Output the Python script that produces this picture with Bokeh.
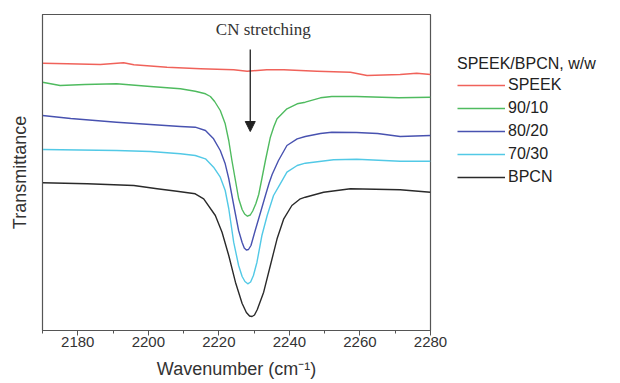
from bokeh.plotting import figure
from bokeh.layouts import row
from bokeh.models import Range1d, Legend, LegendItem, Arrow, NormalHead, Label, FixedTicker
from bokeh.embed import file_html
from bokeh.resources import INLINE

# ---- data (arbitrary transmittance units, offset curves) ----
speek_x = [2170, 2177, 2186.4, 2193, 2195.9, 2205.3, 2214.8, 2224.2, 2228, 2233.6, 2238.4, 2247.8, 2257.3, 2262, 2271.4, 2276.1, 2280]
speek_y = [267.3, 266.7, 266, 267.7, 265.7, 263.3, 261.7, 260.7, 259.3, 260.7, 260.7, 259.3, 258.3, 255, 256, 257.3, 256]

g90_x = [2170, 2175, 2182, 2191, 2200.6, 2209.1, 2213.3, 2216.2, 2217.6, 2218.8, 2220.4, 2221.8, 2222.8, 2223.7, 2224.7,
         2225.6, 2226.6, 2227.3, 2228.1, 2228.9, 2229.6, 2230.5, 2231.3, 2232.2, 2233.2, 2234.6, 2235.6, 2236.5, 2239.3,
         2242.2, 2244.5, 2248.8, 2252, 2259, 2271, 2280]
g90_y = [248.3, 245, 246, 246.7, 244, 241.7, 239.3, 236.7, 234, 229, 220, 206.7, 190, 170, 150,
         132, 121, 116.5, 114.3, 115.5, 119.5, 127, 136, 152, 170, 193.3, 204, 211.7, 221.7,
         226.7, 228.3, 232.7, 234, 234, 232.7, 233.3]

b80_x = [2170, 2178, 2191, 2200.6, 2209.1, 2213.3, 2216.2, 2218.5, 2220.4, 2221.8, 2222.8, 2223.7, 2224.5,
         2225.6, 2226.6, 2227.2, 2227.8, 2228.4, 2229.1, 2230.3, 2231.8, 2233.2, 2234.3, 2235.1, 2236.9,
         2239.3, 2242.2, 2244.5, 2248.8, 2252, 2259, 2265, 2271.4, 2280]
b80_y = [215, 212, 208.3, 206, 204, 203.3, 200, 191.7, 180, 166.7, 152, 135, 120,
         100, 88, 82.5, 80.5, 81, 85, 100, 118, 135, 148, 156, 170,
         185, 191.7, 194, 197, 198.3, 198, 197, 194, 195]

c70_x = [2170, 2191, 2200.6, 2209.1, 2213.3, 2216.2, 2218.5, 2220.4, 2221.8, 2222.8, 2224.2, 2225.6, 2226.6,
         2227.4, 2228.2, 2229.0, 2229.8, 2230.8, 2232.2, 2233.7, 2235.5, 2237.4, 2239.3, 2242.2, 2244.5,
         2252.5, 2259.1, 2271.4, 2280]
c70_y = [181, 180, 179, 176.7, 175, 171.7, 163.3, 153.3, 140, 122, 88.3, 65, 54,
         49, 46.7, 48.5, 55, 68.3, 95, 115, 135, 146.7, 158.3, 165, 167.3,
         170.7, 171.3, 169.3, 169.3]

bpcn_x = [2170, 2182.7, 2195.9, 2202.5, 2208.1, 2213.3, 2215.7, 2219.0, 2220.9, 2222.8, 2224.7, 2226.6, 2227.8,
          2228.7, 2229.4, 2230.1, 2230.9, 2232.7, 2234.6, 2236.5, 2238.4, 2240.7, 2243.1, 2244.5, 2249.7,
          2257.3, 2271.4, 2280]
bpcn_y = [147.7, 146.7, 145, 141.7, 139.3, 136.7, 131.7, 115, 98.3, 75, 48.3, 27, 18,
          14.5, 14, 15.5, 21, 38.3, 65, 91.7, 111.7, 125, 131.7, 133.3, 138.3,
          141.7, 140.7, 138.3]

series_names = ["SPEEK", "90/10", "80/20", "70/30", "BPCN"]
series_colors = ["#f0625a", "#4fbb5f", "#4852b0", "#52c9e6", "#2a2a2a"]
x_ticks = [2180, 2200, 2220, 2240, 2260, 2280]
x_minor = [2170, 2190, 2210, 2230, 2250, 2270]
all_x = [speek_x, g90_x, b80_x, c70_x, bpcn_x]
all_y = [speek_y, g90_y, b80_y, c70_y, bpcn_y]

p = figure(frame_width=388, frame_height=316, output_backend="svg", toolbar_location=None,
           x_range=Range1d(2170, 2280), y_range=Range1d(0, 316),
           min_border_left=42, min_border_right=20, min_border_top=14, min_border_bottom=30)
p.background_fill_color = "white"
p.border_fill_color = "white"
p.outline_line_color = "#555555"
p.outline_line_width = 1.2
p.xgrid.visible = False
p.ygrid.visible = False

for xs, ys, c in zip(all_x, all_y, series_colors):
    p.line(xs, ys, line_color=c, line_width=1.4, line_join="round")

# axes
p.xaxis.ticker = FixedTicker(ticks=x_ticks, minor_ticks=x_minor)
p.xaxis.major_tick_in = 0
p.xaxis.major_tick_out = 5
p.xaxis.minor_tick_in = 0
p.xaxis.minor_tick_out = 3
p.xaxis.axis_line_color = "#555555"
p.xaxis.major_tick_line_color = "#555555"
p.xaxis.minor_tick_line_color = "#555555"
p.xaxis.major_label_text_font = "Liberation Sans"
p.xaxis.major_label_text_font_size = "15px"
p.xaxis.major_label_text_color = "#333333"
p.xaxis.major_label_standoff = 1
p.xaxis.axis_label = "Wavenumber (cm\u207b\u00b9)"
p.xaxis.axis_label_text_font = "Liberation Sans"
p.xaxis.axis_label_text_font_size = "18px"
p.xaxis.axis_label_text_font_style = "normal"
p.xaxis.axis_label_text_color = "#333333"
p.xaxis.axis_label_standoff = 9

p.yaxis.ticker = FixedTicker(ticks=[])
p.yaxis.major_tick_out = 0
p.yaxis.minor_tick_out = 0
p.yaxis.axis_line_color = "#555555"
p.yaxis.axis_label = "Transmittance"
p.yaxis.axis_label_text_font = "Liberation Sans"
p.yaxis.axis_label_text_font_size = "18px"
p.yaxis.axis_label_text_font_style = "normal"
p.yaxis.axis_label_text_color = "#333333"
p.yaxis.axis_label_standoff = 13

# annotation
p.add_layout(Label(x=2232.6, y=301, text="CN stretching", text_font="Liberation Serif",
                   text_font_size="17px", text_align="center", text_baseline="middle",
                   text_color="#333333"))
p.add_layout(Arrow(x_start=2228.9, y_start=281, x_end=2228.9, y_end=199,
                   line_color="#222222", line_width=1.3,
                   end=NormalHead(size=10, fill_color="#222222", line_color="#222222")))

# legend panel: a second figure to the right (same series, drawn out of its view)
H = 375
q = figure(width=162, height=H, output_backend="svg", toolbar_location=None,
           x_range=Range1d(0, 1), y_range=Range1d(0, 1),
           x_axis_location=None, y_axis_location=None,
           min_border_left=0, min_border_right=0, min_border_top=0, min_border_bottom=0)
q.outline_line_color = None
q.xgrid.visible = False
q.ygrid.visible = False
samples = [q.line(xs, ys, line_color=c, line_width=1.3) for xs, ys, c in zip(all_x, all_y, series_colors)]

legend = Legend(items=[LegendItem(label=n, renderers=[r]) for n, r in zip(series_names, samples)],
                location=(7, H - 186 - 52), title="SPEEK/BPCN, w/w",
                title_text_font="Liberation Sans", title_text_font_size="16px",
                title_text_font_style="normal", title_text_color="#222222",
                label_text_font="Liberation Sans", label_text_font_size="16px",
                label_text_color="#222222",
                glyph_width=48, glyph_height=20, label_height=20, spacing=3,
                label_standoff=3, padding=0, margin=0, title_standoff=2,
                border_line_color=None, background_fill_alpha=0)
q.add_layout(legend, "center")

open("out.html", "w").write(file_html(row(p, q, spacing=0), INLINE))
